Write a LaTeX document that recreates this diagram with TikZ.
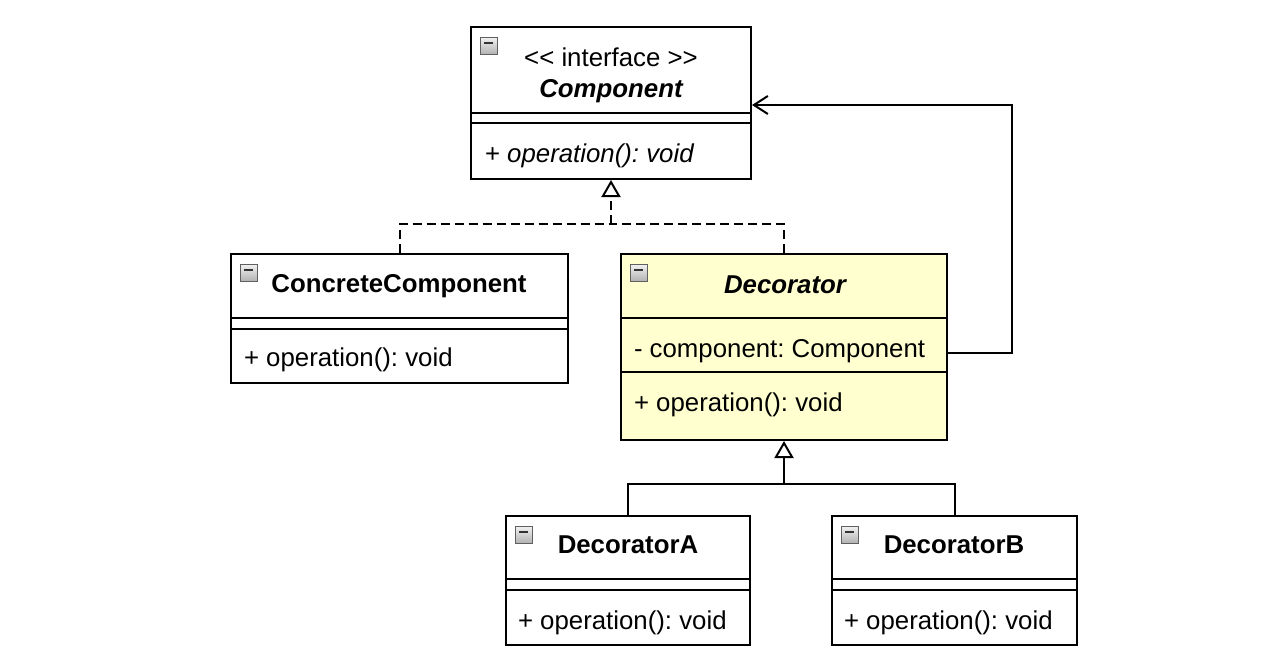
\documentclass[tikz,border=0pt]{standalone}
\usepackage{fontspec}
\setmainfont{Liberation Sans}
\usetikzlibrary{arrows.meta}
\definecolor{decofill}{HTML}{FFFFD0}
\newcommand{\umlfont}{\fontsize{25.8}{31}\selectfont\frenchspacing}
%% collapse button in the corner of a class box
\newcommand{\collapse}[1]{%
  \draw[gray!75!black,line width=1pt,top color=gray!10,bottom color=gray!60]
    ([shift={(10,11)}]#1.north west) rectangle ++(17,17);
  \draw[black!80,line width=2pt] ([shift={(14,17)}]#1.north west) -- ++(9,0);}
%% compartment line, #2 below the top of the box
\newcommand{\sepline}[2]{%
  \draw ([yshift=-#2pt]#1.north west) -- ([yshift=-#2pt]#1.north east);}
\begin{document}
\begin{tikzpicture}[x=1pt,y=-1pt,line width=2pt,font=\umlfont,
    every node/.style={inner sep=0pt},
    classbox/.style 2 args={draw,fill=white,minimum width=#1pt,minimum height=#2pt},
    realize/.style={dash pattern=on 9pt off 5pt},
    inherit/.style={-{Triangle[open,length=17pt,width=19pt]}},
    assoc/.style={-{Straight Barb[length=14pt,width=18pt]}}]
    \useasboundingbox (0,0) rectangle (1280,664);
    %% interface
    \node[classbox={280}{152}] (comp) at (611,103) {};
    \sepline{comp}{87}
    \sepline{comp}{97}
    \collapse{comp}
    \node[anchor=base] (compstereo) at (611,66) {<\kern0pt< interface >\kern0pt>};
    \node[anchor=base] (comptitle) at (611,97) {\bfseries\itshape Component};
    \node[anchor=base west] (compop) at (484,162) {+ \itshape operation(): void};
    %% concrete component
    \node[classbox={337}{129}] (conc) at (399.5,318.5) {};
    \sepline{conc}{65}
    \sepline{conc}{76}
    \collapse{conc}
    \node[anchor=base] (conctitle) at (399,292) {\bfseries ConcreteComponent};
    \node[anchor=base west] (concop) at (243,366) {+ operation(): void};
    %% decorator
    \node[classbox={326}{186},fill=decofill] (deco) at (784,347) {};
    \sepline{deco}{65}
    \sepline{deco}{119}
    \collapse{deco}
    \node[anchor=base] (decotitle) at (785,293) {\bfseries\itshape Decorator};
    \node[anchor=base west] (decoattr) at (633,357) {- component: Component};
    \node[anchor=base west] (decoop) at (633,411) {+ operation(): void};
    %% concrete decorators
    \node[classbox={244}{129}] (decA) at (628,580.5) {};
    \sepline{decA}{64}
    \sepline{decA}{75}
    \collapse{decA}
    \node[anchor=base] (decAtitle) at (628,553) {\bfseries DecoratorA};
    \node[anchor=base west] (decAop) at (517,629) {+ operation(): void};
    \node[classbox={245}{129}] (decB) at (954.5,580.5) {};
    \sepline{decB}{64}
    \sepline{decB}{75}
    \collapse{decB}
    \node[anchor=base] (decBtitle) at (954,553) {\bfseries DecoratorB};
    \node[anchor=base west] (decBop) at (843,629) {+ operation(): void};
    %% realization
    \coordinate (realjoin) at (611,224);
    \draw[realize] (conc.north) |- (realjoin);
    \draw[realize] (deco.north) |- (realjoin);
    \draw[realize,inherit] (realjoin) -- (comp.south);
    %% inheritance
    \coordinate (inhjoin) at (784,484);
    \draw (decA.north) |- (inhjoin);
    \draw (decB.north) |- (inhjoin);
    \draw[inherit] (inhjoin) -- (deco.south);
    %% association
    \coordinate (assocbend) at (1012,105);
    \draw[assoc] ([yshift=-6pt]deco.east) -| (assocbend) -- (assocbend -| comp.east);
\end{tikzpicture}
\end{document}
